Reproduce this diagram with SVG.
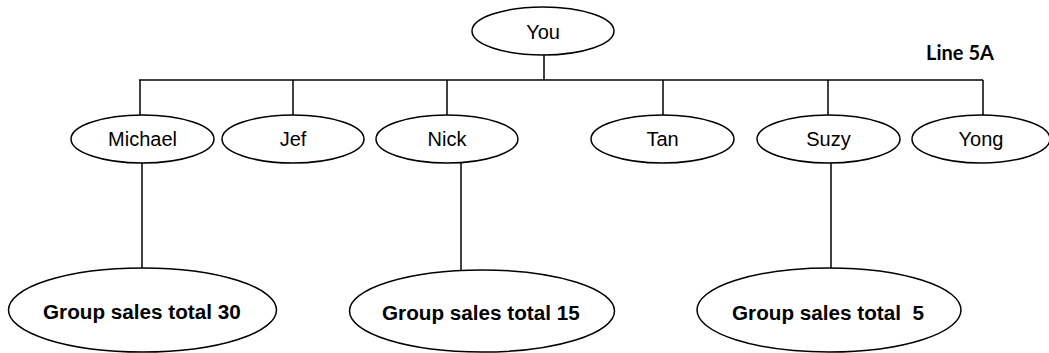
<svg xmlns="http://www.w3.org/2000/svg" width="1049" height="353" viewBox="0 0 1049 353">
<style>
.n{fill:#fff;stroke:#000;stroke-width:1.5}
.t{font-family:"Liberation Sans",Arial,sans-serif;font-size:20px;text-anchor:middle;fill:#000}
.g{font-family:"Liberation Sans",Arial,sans-serif;font-size:20.7px;font-weight:bold;fill:#000;white-space:pre}
.c{fill:none;stroke:#000;stroke-width:1.5}
</style>
<rect width="1049" height="353" fill="#fff"/>
<g id="connectors" class="c">
<line x1="544" y1="55" x2="544" y2="80"/>
<line x1="139" y1="80" x2="983" y2="80"/>
<line x1="140" y1="80" x2="140" y2="115"/>
<line x1="293" y1="80" x2="293" y2="115"/>
<line x1="447" y1="80" x2="447" y2="115"/>
<line x1="663" y1="80" x2="663" y2="115"/>
<line x1="828" y1="80" x2="828" y2="115"/>
<line x1="983" y1="80" x2="983" y2="115"/>
<line x1="142" y1="163" x2="142" y2="268"/>
<line x1="461" y1="163" x2="461" y2="270"/>
<line x1="831" y1="163" x2="831" y2="268"/>
</g>
<g id="you"><ellipse class="n" cx="543" cy="31" rx="71" ry="24"/><text class="t" x="543" y="39">You</text></g>
<g id="michael"><ellipse class="n" cx="142.5" cy="139" rx="71.5" ry="24"/><text class="t" x="142.5" y="146">Michael</text></g>
<g id="jef"><ellipse class="n" cx="293" cy="139" rx="71" ry="24"/><text class="t" x="293" y="146">Jef</text></g>
<g id="nick"><ellipse class="n" cx="447" cy="139" rx="71" ry="24"/><text class="t" x="447" y="146">Nick</text></g>
<g id="tan"><ellipse class="n" cx="662.5" cy="139" rx="71.5" ry="24"/><text class="t" x="662.5" y="146">Tan</text></g>
<g id="suzy"><ellipse class="n" cx="828.5" cy="139" rx="71.5" ry="24"/><text class="t" x="828.5" y="146">Suzy</text></g>
<g id="yong"><ellipse class="n" cx="981" cy="139" rx="69" ry="24"/><text class="t" x="981" y="146">Yong</text></g>
<g id="group30"><ellipse class="n" cx="142.5" cy="310" rx="134" ry="42"/><text class="g" x="43" y="319">Group sales total 30</text></g>
<g id="group15"><ellipse class="n" cx="482" cy="311" rx="132.5" ry="41"/><text class="g" x="382" y="320">Group sales total 15</text></g>
<g id="group5"><ellipse class="n" cx="829" cy="310" rx="132" ry="42"/><text class="g" x="732" y="320" xml:space="preserve">Group sales total  5</text></g>
<text x="960" y="60" font-family="Lato,'Open Sans',sans-serif" font-weight="bold" font-size="20" text-anchor="middle">Line 5A</text>
</svg>
